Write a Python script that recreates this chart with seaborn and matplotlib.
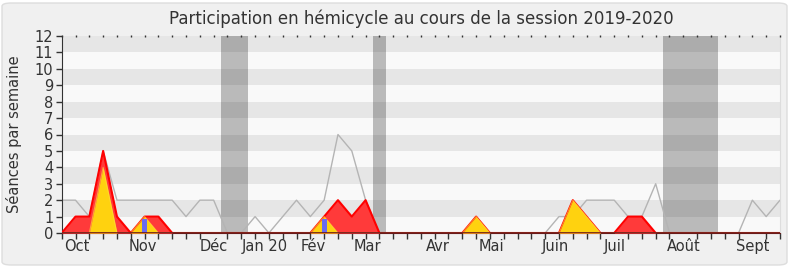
import numpy as np
import pandas as pd
import matplotlib
matplotlib.use("Agg")
import matplotlib.pyplot as plt
from matplotlib.patches import FancyBboxPatch
import seaborn as sns

# ---- data (weekly, session 2019-2020) ----
weeks = list(range(53))
total_sessions = [2, 2, 1, 5, 2, 2, 2, 2, 2, 1, 2, 2, 0, 0, 1, 0, 1, 2, 1, 2,
                  6, 5, 2, 0, 0, 0, 0, 0, 0, 0, 0, 0, 0, 0, 0, 0, 1, 1, 2, 2,
                  2, 1, 1, 3, 0, 0, 0, 0, 0, 0, 2, 1, 2]
presences = [0, 1, 1, 5, 1, 0, 1, 1, 0, 0, 0, 0, 0, 0, 0, 0, 0, 0, 0, 1,
             2, 1, 2, 0, 0, 0, 0, 0, 0, 0, 1, 0, 0, 0, 0, 0, 0, 2, 1, 0,
             0, 1, 1, 0, 0, 0, 0, 0, 0, 0, 0, 0, 0]
commission = [0, 0, 0, 4, 0, 0, 1, 0, 0, 0, 0, 0, 0, 0, 0, 0, 0, 0, 0, 1,
              0, 0, 0, 0, 0, 0, 0, 0, 0, 0, 1, 0, 0, 0, 0, 0, 0, 2, 1, 0,
              0, 0, 0, 0, 0, 0, 0, 0, 0, 0, 0, 0, 0]
question_weeks = [6, 19]
question_values = [0.85, 0.85]
vacations = [(11.5, 13.5), (22.5, 23.5), (43.5, 47.5)]
month_labels = ["Oct", "Nov", "Déc", "Jan 20", "Fév", "Mar", "Avr", "Mai",
                "Juin", "Juil", "Août", "Sept"]
month_pos = [1.1, 5.9, 11.0, 14.7, 18.2, 22.1, 27.2, 31.1, 35.7, 40.0, 45.0, 50.0]
y_ticks = list(range(13))

df = pd.DataFrame({"week": weeks, "total": total_sessions,
                   "presences": presences, "commission": commission})

sns.set_style("white")
plt.rcParams["font.family"] = ["DejaVu Sans"]

W, H = 790, 267
fig = plt.figure(figsize=(W / 100, H / 100), dpi=100)
fig.patch.set_facecolor("white")
fig.patches.append(FancyBboxPatch((2 / W, 2 / H), (W - 5) / W, (H - 5) / H,
                                  boxstyle="round,pad=0,rounding_size=0.012",
                                  transform=fig.transFigure, facecolor="#f0f0f0",
                                  edgecolor="#dddddd", linewidth=1, zorder=-10))

ax = fig.add_axes([61.7 / W, (H - 233) / H, (780 - 61.7) / W, (233 - 36) / H])
ax.set_facecolor("#f9f9f9")

# horizontal bands
for k in range(1, 12, 2):
    ax.axhspan(k, k + 1, color="#e6e6e6", lw=0, zorder=0)

# vacations
for a, b in vacations:
    ax.axvspan(a, b, color="black", alpha=0.25, lw=0, zorder=1)

sns.lineplot(data=df, x="week", y="total", ax=ax, color="#b4b4b4", lw=1,
             zorder=2, legend=False)
ax.fill_between(df["week"], 0, df["presences"], color="#ff3a3a", lw=0, zorder=3)
ax.plot(df["week"], df["presences"], color="#ff0000", lw=1.5, zorder=3)
ax.fill_between(df["week"], 0, df["commission"], color="#ffd20f", lw=0, zorder=4)
ax.plot(df["week"], df["commission"], color="#ffe040", lw=0.8, alpha=0.6, zorder=4)
ax.bar(question_weeks, question_values, width=0.35, color="#6b6bf0", lw=0, zorder=5)

ax.axhline(0, color="#6a1a1a", lw=1.2, zorder=6)

ax.set_xlim(0, 52)
ax.set_ylim(0, 12)
ax.set_yticks(y_ticks)
ax.set_yticklabels([str(v) for v in y_ticks])
ax.set_xticks(month_pos)
ax.set_xticklabels(month_labels)
ax.set_xticks(weeks, minor=True)
ax.tick_params(axis="x", which="major", length=0, pad=4, labelsize=10.5,
               labelcolor="#333333")
ax.tick_params(axis="x", which="minor", bottom=True, top=False, length=4,
               width=1, color="#333333", direction="out")
ax.tick_params(axis="y", which="major", left=True, length=4, width=1,
               color="#333333", labelsize=10.5, labelcolor="#333333", pad=2)
ax.set_xlabel("")
ax.set_ylabel("Séances par semaine", fontsize=10.5, color="#333333", labelpad=9)

ax.spines["top"].set_visible(False)
ax.spines["left"].set_color("#333333")
ax.spines["bottom"].set_color("#6a1a1a")
ax.spines["right"].set_color("#dddddd")

# top dotted ticks
for w in weeks:
    ax.plot([w], [12], marker="|", ms=1.5, color="#333333", mew=1,
            clip_on=False, zorder=7)

fig.text(421 / W, 1 - 19 / H, "Participation en hémicycle au cours de la session 2019-2020",
         ha="center", va="center", fontsize=12, color="#333333")

fig.savefig("out.png", dpi=100, facecolor=fig.get_facecolor())
